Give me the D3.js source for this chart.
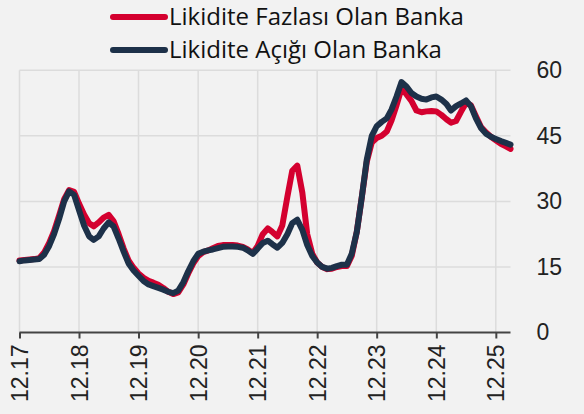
<!DOCTYPE html>
<html>
<head>
<meta charset="utf-8">
<script src="https://cdn.jsdelivr.net/npm/d3@7"></script>
<style>
  html, body { margin: 0; padding: 0; background: #f2f2f2; }
  svg { display: block; font-family: "Open Sans", "Noto Sans", sans-serif; }
</style>
</head>
<body>
<svg id="chart" width="584" height="414"></svg>
<script>
// Monthly series, Dec 2017 – Mar 2026
const startMonth = new Date(2017, 11, 1);
const seriesNames = ["Likidite Fazlası Olan Banka", "Likidite Açığı Olan Banka"];
const seriesColors = ["#d4002f", "#1d3149"];

const fazlasi = [
  16.5, 16.6, 16.7, 16.8, 17.0, 18.3, 20.5, 23.2, 26.8, 30.5, 32.6, 32.2,
  29.5, 27.0, 25.0, 24.3, 25.2, 26.3, 26.9, 25.5, 22.5, 19.2, 16.5, 14.8,
  13.5, 12.5, 11.8, 11.4, 10.9, 10.2, 9.3, 8.8, 9.2, 11.0, 13.5, 15.8,
  17.5, 18.4, 18.8, 19.3, 19.8, 20.0, 20.0, 20.0, 19.9, 19.6, 19.0, 18.2,
  19.8, 22.5, 23.8, 23.0, 22.0, 24.5, 31.0, 37.0, 38.2, 32.0, 22.5, 18.0,
  16.0, 15.0, 14.5, 14.6, 15.0, 15.2, 15.2, 17.5, 23.0, 31.0, 39.0, 43.5,
  44.5, 45.0, 46.0, 48.5, 52.0, 55.8, 54.5, 53.0, 50.8, 50.4, 50.6, 50.7,
  50.6, 49.8, 48.8, 48.0, 48.4, 50.5, 52.5, 52.0, 49.5, 47.0, 45.8, 44.8,
  44.0, 43.2, 42.6, 42.0
];

const acigi = [
  16.3, 16.5, 16.6, 16.7, 16.8, 17.8, 19.8, 22.5, 26.0, 30.0, 32.3, 31.5,
  28.0, 24.5, 22.0, 21.2, 22.0, 23.8, 25.2, 24.3, 21.5, 18.5, 15.8, 14.2,
  13.0, 11.8, 11.0, 10.6, 10.2, 9.8, 9.3, 9.0, 9.6, 11.5, 14.0, 16.3,
  18.0, 18.5, 18.8, 19.0, 19.3, 19.6, 19.7, 19.7, 19.6, 19.4, 18.8, 18.0,
  19.2, 20.5, 21.0, 20.2, 19.4, 20.5, 22.5, 25.0, 25.8, 23.5, 20.0, 17.5,
  16.0, 15.0, 14.6, 14.8, 15.2, 15.5, 15.5, 18.0, 23.0, 31.0, 39.5, 45.0,
  47.2, 48.2, 49.0, 51.0, 54.0, 57.3, 56.3, 54.8, 54.0, 53.5, 53.3, 53.8,
  54.0, 53.3, 52.3, 50.8, 51.8, 52.4, 53.1, 51.8, 49.0, 46.8, 45.5, 44.8,
  44.3, 43.8, 43.4, 43.0
];

const yTicks = [0, 15, 30, 45, 60];
const xTickLabels = ["12.17", "12.18", "12.19", "12.20", "12.21", "12.22", "12.23", "12.24", "12.25"];

const months = fazlasi.map((_, i) => d3.timeMonth.offset(startMonth, i));
const series = [fazlasi, acigi].map((vals, k) => ({
  name: seriesNames[k],
  color: seriesColors[k],
  points: vals.map((v, i) => ({ date: months[i], value: v }))
}));

const svg = d3.select("#chart");
const plotLeft = 19.5, plotRight = 510.5, plotTop = 70.3, plotBottom = 332.5;

const x = d3.scaleTime()
  .domain([months[0], months[months.length - 1]])
  .range([plotLeft, plotRight]);
const y = d3.scaleLinear().domain([0, 60]).range([plotBottom, plotTop]);

const parseTick = d3.timeParse("%m.%y");
const xTickDates = xTickLabels.map(parseTick);

// grid
const grid = svg.append("g");
grid.selectAll("line.h").data(yTicks.filter(t => t > 0)).join("line")
  .attr("x1", plotLeft).attr("x2", plotRight)
  .attr("y1", d => y(d)).attr("y2", d => y(d))
  .attr("stroke", "#dcdcdc").attr("stroke-width", 1.5);
grid.selectAll("line.v").data(xTickDates).join("line")
  .attr("x1", d => x(d)).attr("x2", d => x(d))
  .attr("y1", plotTop).attr("y2", plotBottom)
  .attr("stroke", "#dcdcdc").attr("stroke-width", 1.5);

// x axis
const xAxis = svg.append("g")
  .attr("transform", `translate(0,${plotBottom})`)
  .call(d3.axisBottom(x).tickValues(xTickDates).tickFormat(d3.timeFormat("%m.%y"))
    .tickSize(6).tickSizeOuter(0));
xAxis.select(".domain").attr("stroke", "#444").attr("stroke-width", 2)
  .attr("d", `M${plotLeft},0H${plotRight}`);
xAxis.selectAll(".tick line").attr("stroke", "#444").attr("stroke-width", 2);
xAxis.selectAll(".tick text")
  .attr("font-size", 23).attr("fill", "#222")
  .attr("transform", "rotate(-90)")
  .attr("text-anchor", "end")
  .attr("x", -12).attr("y", 0).attr("dy", "0.35em");

// y axis on right
const yAxis = svg.append("g")
  .attr("transform", `translate(${plotRight},0)`)
  .call(d3.axisRight(y).tickValues(yTicks).tickSize(0).tickPadding(26));
yAxis.select(".domain").remove();
yAxis.selectAll(".tick text").attr("font-size", 23).attr("fill", "#222");

// lines
const line = d3.line().x(d => x(d.date)).y(d => y(d.value)).curve(d3.curveLinear);
svg.append("g").selectAll("path").data(series).join("path")
  .attr("d", d => line(d.points))
  .attr("fill", "none")
  .attr("stroke", d => d.color)
  .attr("stroke-width", 6)
  .attr("stroke-linejoin", "round")
  .attr("stroke-linecap", "round");

// legend
const legend = svg.append("g");
const rows = legend.selectAll("g").data(series).join("g")
  .attr("transform", (d, i) => `translate(0,${17 + i * 33})`);
rows.append("line")
  .attr("x1", 113).attr("x2", 165).attr("y1", 0).attr("y2", 0)
  .attr("stroke", d => d.color).attr("stroke-width", 6)
  .attr("stroke-linecap", "round");
rows.append("text")
  .attr("x", 169).attr("y", 0).attr("dy", "0.35em")
  .attr("font-size", 24).attr("fill", "#111")
  .text(d => d.name);
</script>
</body>
</html>
